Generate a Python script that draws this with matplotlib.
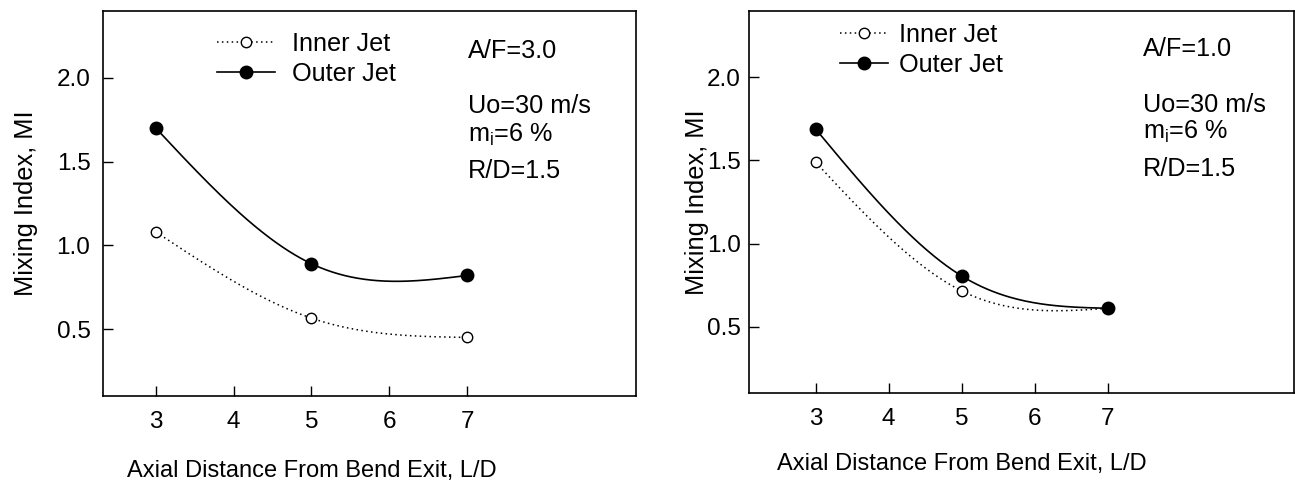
import numpy as np
import matplotlib
matplotlib.use("Agg")
import matplotlib.pyplot as plt
from matplotlib.lines import Line2D

plt.rcParams['font.family'] = ['Liberation Sans', 'DejaVu Sans']
plt.rcParams['mathtext.fontset'] = 'custom'
plt.rcParams['mathtext.rm'] = 'Liberation Sans'
plt.rcParams['mathtext.it'] = 'Liberation Sans'

# axial distance L/D
x_ld = [3, 5, 7]

# A/F = 3.0
inner_af3 = [1.08, 0.565, 0.45]
outer_af3 = [1.70, 0.89, 0.82]

# A/F = 1.0
inner_af1 = [1.49, 0.715, 0.61]
outer_af1 = [1.69, 0.805, 0.61]

af_labels = ["A/F=3.0", "A/F=1.0"]
cond_labels = ["Uo=30 m/s", "m$_\\mathrm{i}$=6 %", "R/D=1.5"]
x_ticks = [3, 4, 5, 6, 7]
y_ticks = [0.5, 1.0, 1.5, 2.0]

FS_TICK = 17.5
FS_TEXT = 18.2
FS_YLAB = 18.3
FS_XLAB = 17.0


def natural_spline(x, y, n=200):
    # natural cubic spline through the measured points, for the smooth curve
    x = np.asarray(x, float)
    y = np.asarray(y, float)
    k = len(x)
    h = np.diff(x)
    A = np.zeros((k, k))
    r = np.zeros(k)
    A[0, 0] = A[-1, -1] = 1.0
    for i in range(1, k - 1):
        A[i, i - 1] = h[i - 1]
        A[i, i] = 2 * (h[i - 1] + h[i])
        A[i, i + 1] = h[i]
        r[i] = 6 * ((y[i + 1] - y[i]) / h[i] - (y[i] - y[i - 1]) / h[i - 1])
    M = np.linalg.solve(A, r)
    xs = np.linspace(x[0], x[-1], n)
    ys = np.empty_like(xs)
    for j, xv in enumerate(xs):
        i = min(np.searchsorted(x, xv, side='right') - 1, k - 2)
        a = x[i + 1] - xv
        b = xv - x[i]
        ys[j] = (M[i] * a ** 3 + M[i + 1] * b ** 3) / (6 * h[i]) \
            + (y[i] / h[i] - M[i] * h[i] / 6) * a \
            + (y[i + 1] / h[i] - M[i + 1] * h[i] / 6) * b
    return xs, ys


fig = plt.figure(figsize=(12.95, 4.84), dpi=100)
ax1 = fig.add_axes([0.0795, 0.1818, 0.4116, 0.7955])
ax2 = fig.add_axes([0.5784, 0.1880, 0.4208, 0.7893])

# axes, inner, outer, A/F text, xlim, ylabel x, y tick pad, xlabel y,
# legend anchor, handle length, handle pad, text x, text baselines
panels = [
    (ax1, inner_af3, outer_af3, af_labels[0], (2.32, 9.17), -0.122, 9, -0.165,
     (0.214, 0.945), 2.3, 0.65, 0.685, [0.878, 0.735, 0.660, 0.566]),
    (ax2, inner_af1, outer_af1, af_labels[1], (2.09, 9.55), -0.074, 6, -0.158,
     (0.167, 0.968), 1.9, 0.45, 0.723, [0.882, 0.736, 0.665, 0.568]),
]

for (ax, inner, outer, af, xlim, ylab_x, ypad, xlab_y, leg_pos, hlen, hpad,
     tx, ty) in panels:
    xs, ys = natural_spline(x_ld, inner)
    ax.plot(xs, ys, color='black', lw=1.1, linestyle=(0, (1, 2.2)))
    xs, ys = natural_spline(x_ld, outer)
    ax.plot(xs, ys, color='black', lw=1.2)
    ax.plot(x_ld, inner, 'o', ms=7.5, mfc='white', mec='black', mew=1.0)
    ax.plot(x_ld, outer, 'o', ms=9, mfc='black', mec='black')

    ax.set_xlim(*xlim)
    ax.set_ylim(0.1, 2.4)
    ax.set_xticks(x_ticks)
    ax.set_yticks(y_ticks)
    ax.set_yticklabels(['%.1f' % v for v in y_ticks])
    ax.tick_params(direction='in', length=7.5, width=1.0, labelsize=FS_TICK)
    ax.tick_params(axis='x', pad=11)
    ax.tick_params(axis='y', pad=ypad)
    for s in ax.spines.values():
        s.set_linewidth(1.2)

    ax.set_ylabel("Mixing Index, MI", fontsize=FS_YLAB)
    ax.yaxis.set_label_coords(ylab_x, 0.5)
    ax.set_xlabel("Axial Distance From Bend Exit, L/D", fontsize=FS_XLAB)
    ax.xaxis.set_label_coords((5 - xlim[0]) / (xlim[1] - xlim[0]), xlab_y)

    handles = [
        Line2D([], [], color='black', lw=1.1, linestyle=(0, (1, 2.2)),
               marker='o', ms=7.5, mfc='white', mec='black', mew=1.0),
        Line2D([], [], color='black', lw=1.2, marker='o', ms=9, mfc='black'),
    ]
    ax.legend(handles, ["Inner Jet", "Outer Jet"], loc='upper left',
              bbox_to_anchor=leg_pos, frameon=False, fontsize=FS_TEXT,
              handlelength=hlen, handletextpad=hpad, labelspacing=0.22,
              borderpad=0, borderaxespad=0)

    ax.text(tx, ty[0], af, transform=ax.transAxes, fontsize=FS_TEXT,
            va='baseline')
    for lab, yy in zip(cond_labels, ty[1:]):
        ax.text(tx, yy, lab, transform=ax.transAxes, fontsize=FS_TEXT,
                va='baseline')

fig.savefig("out.png", dpi=100)
